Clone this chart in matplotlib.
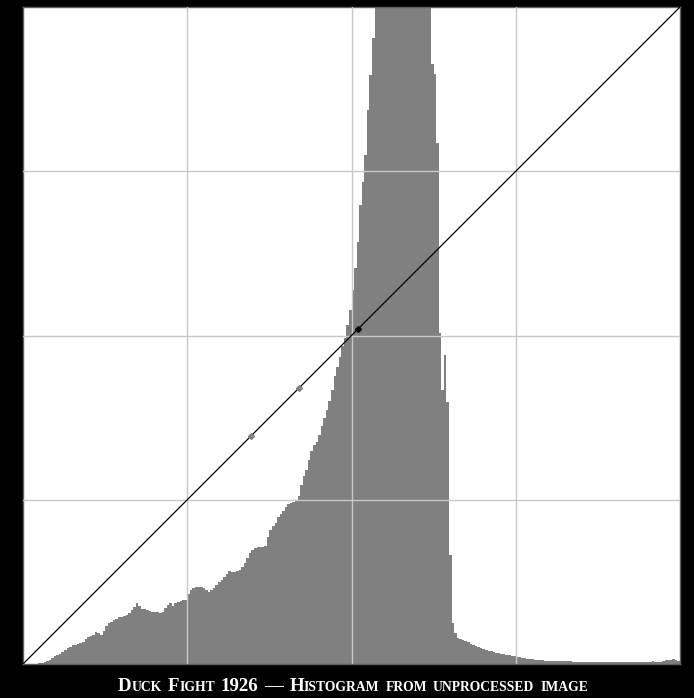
import matplotlib
matplotlib.use("Agg")
import matplotlib.pyplot as plt
import numpy as np

# histogram counts for 256 grey levels (peak clipped at the top of the plot)
counts = [
    0, 0, 0, 0, 0, 0, 1, 1, 2, 3,
    4, 6, 8, 9, 10, 12, 14, 16, 17, 19,
    19, 20, 21, 22, 25, 27, 28, 29, 32, 31,
    29, 33, 38, 41, 42, 44, 45, 47, 47, 48,
    49, 51, 54, 57, 61, 58, 55, 55, 54, 53,
    52, 52, 52, 51, 52, 56, 59, 61, 58, 61,
    62, 63, 64, 64, 70, 74, 76, 77, 77, 77,
    76, 74, 72, 74, 76, 79, 82, 84, 87, 90,
    93, 92, 92, 93, 94, 97, 101, 106, 111, 114,
    116, 117, 117, 117, 118, 127, 134, 138, 141, 147,
    150, 153, 157, 160, 161, 162, 164, 168, 179, 188,
    194, 204, 213, 219, 222, 229, 238, 246, 254, 263,
    274, 288, 297, 307, 318, 326, 339, 354, 374, 396,
    422, 459, 482, 509, 554, 589, 626, 680, 720, 760,
    800, 830, 860, 880, 900, 910, 915, 910, 900, 885,
    865, 840, 815, 790, 760, 730, 700, 680, 670, 600,
    590, 521, 331, 274, 309, 262, 109, 41, 31, 26,
    25, 24, 23, 22, 20, 19, 18, 17, 16, 15,
    14, 13, 13, 12, 11, 11, 10, 10, 9, 9,
    8, 8, 7, 7, 6, 6, 5, 5, 5, 4,
    4, 4, 4, 3, 3, 3, 3, 3, 3, 3,
    3, 3, 3, 3, 2, 2, 2, 2, 2, 2,
    2, 2, 2, 2, 2, 2, 2, 2, 2, 2,
    2, 2, 2, 2, 2, 2, 2, 2, 2, 2,
    2, 2, 2, 2, 2, 3, 2, 2, 2, 3,
    4, 4, 4, 5, 4, 3,
]
y_max = 657

# curve control points (fractions of the range), identity curve
ctrl_x = [0.347, 0.42, 0.51]
ctrl_col = ["#808080", "#808080", "black"]

# title in small caps: (text, big?) runs per word
title_words = [
    [("D", True), ("UCK", False)],
    [("F", True), ("IGHT", False)],
    [("1926", True)],
    [("\u2014", True)],
    [("H", True), ("ISTOGRAM", False)],
    [("FROM", False)],
    [("UNPROCESSED", False)],
    [("IMAGE", False)],
]

W, H = 694, 698
fig = plt.figure(figsize=(W / 100, H / 100), dpi=100, facecolor="black")
ax = fig.add_axes([23 / W, 34 / H, 657 / W, 657 / H])
ax.set_facecolor("white")

ax.bar(np.arange(len(counts)), counts, width=1.0, align="edge",
       color="#808080", linewidth=0, zorder=2)

for f in [0.25, 0.5, 0.75]:
    ax.axvline(256 * f, color="#c8c8c8", lw=1, zorder=3)
    ax.axhline(y_max * f, color="#c8c8c8", lw=1, zorder=3)

ax.plot([0, 1], [0, 1], transform=ax.transAxes, color="black", lw=0.9, zorder=4)
for cx, c in zip(ctrl_x, ctrl_col):
    ax.plot([cx], [cx], transform=ax.transAxes, marker="D", ms=3,
            color=c, zorder=5)

ax.set_xlim(0, 256)
ax.set_ylim(0, y_max)
ax.set_xticks([])
ax.set_yticks([])
for sp in ax.spines.values():
    sp.set_color("#606060")
    sp.set_linewidth(1)

# lay out the small-caps title piece by piece, fitted to the reference width
big, small = 14.5, 10.5
base_y = 7 / H
gap = 6
target = 473
renderer = fig.canvas.get_renderer()
pieces = []
for wi, word in enumerate(title_words):
    for s, is_big in word:
        t = fig.text(0, base_y, s, fontsize=big if is_big else small,
                     family="Liberation Serif", weight="bold", color="white",
                     va="baseline", ha="left")
        pieces.append([t, 0, wi])

def measure():
    for p in pieces:
        p[1] = p[0].get_window_extent(renderer).width
    return sum(p[1] for p in pieces) + gap * (len(title_words) - 1)

total = measure()
scale = (target - gap * (len(title_words) - 1)) / (total - gap * (len(title_words) - 1))
for p in pieces:
    p[0].set_fontsize(p[0].get_fontsize() * scale)
total = measure()

x = 353 - total / 2
last = 0
for t, w, wi in pieces:
    if wi != last:
        x += gap
        last = wi
    t.set_x(x / W)
    x += w

fig.savefig("out.png", dpi=100, facecolor="black")
